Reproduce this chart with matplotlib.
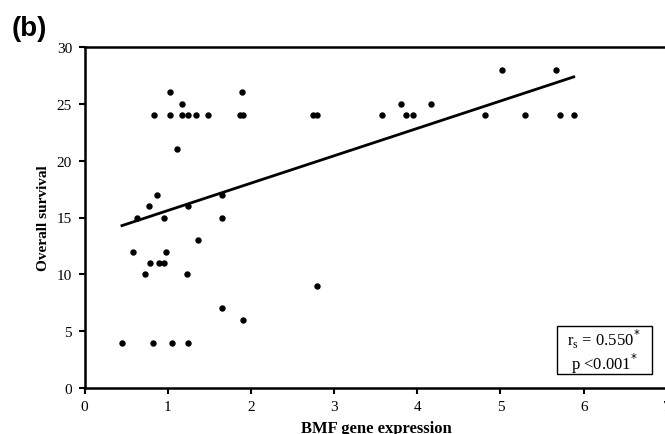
import numpy as np
import matplotlib.pyplot as plt

# BMF gene expression vs overall survival
bmf = [0.45, 0.82, 1.05, 1.25,
       1.65, 1.90,
       0.87, 1.65,
       0.77, 1.25,
       0.63, 0.96, 1.65,
       1.36,
       0.58, 0.98,
       0.79, 0.89, 0.96,
       0.73, 1.23,
       1.03, 1.89,
       1.17, 3.81, 4.16,
       0.83, 1.03, 1.17, 1.25, 1.34, 1.48, 1.87, 1.90, 2.75, 2.80,
       3.57, 3.86, 3.95, 4.81, 5.29, 5.71, 5.88,
       1.11,
       2.80,
       5.02, 5.67]
survival = [4, 4, 4, 4,
            7, 6,
            17, 17,
            16, 16,
            15, 15, 15,
            13,
            12, 12,
            11, 11, 11,
            10, 10,
            26, 26,
            25, 25, 25,
            24, 24, 24, 24, 24, 24, 24, 24, 24, 24,
            24, 24, 24, 24, 24, 24, 24,
            21,
            9,
            28, 28]
# trend line as drawn in the figure
trend_slope = 2.41
trend_intercept = 13.2
stats_text = "r$_\\mathregular{s}$ = 0.550$^{*}$\np <0.001$^{*}$"

x = np.array(bmf)
y = np.array(survival)
xf = np.array([x.min(), x.max()])

plt.rcParams['font.family'] = ['Liberation Serif']
W, H = 665, 435
fig = plt.figure(figsize=(6.65, 4.35), dpi=100)
ax = fig.add_axes([84.5 / W, 1 - 389 / H, 582.4 / W, (389 - 48) / H])

ax.plot(x, y, 'o', color='black', ms=4.6, mec='none')
ax.plot(xf, trend_slope * xf + trend_intercept, color='black', lw=2)

ax.set_xlim(0, 7)
ax.set_ylim(0, 30)
ax.set_xticks(range(0, 8))
ax.set_yticks(range(0, 31, 5))
ax.tick_params(direction='out', length=4, width=1.5, labelsize=11)
ax.tick_params(axis='y', pad=5)
ax.tick_params(axis='x', pad=5)
for s in ['left', 'bottom', 'top']:
    ax.spines[s].set_linewidth(1.8)
ax.spines['right'].set_visible(False)

ax.set_ylabel('Overall survival', fontsize=11, fontweight='bold', labelpad=5)
fig.text(376 / W, 1 - 433 / H, 'BMF gene expression', fontsize=12,
         fontweight='bold', ha='center', va='baseline')

fig.text(604 / W, 1 - 352 / H, stats_text, fontsize=12, ha='center', va='center',
         linespacing=1.0)
ax.add_patch(plt.Rectangle((556.7 / W, 1 - 375 / H), 95 / W, 47.7 / H,
                           transform=fig.transFigure, fill=False, lw=1, ec='black'))

fig.text(12 / W, 1 - 29 / H, '(b)', fontsize=20, fontweight='bold',
         family='Liberation Sans', ha='left', va='center')

fig.savefig('out.png', dpi=100)
